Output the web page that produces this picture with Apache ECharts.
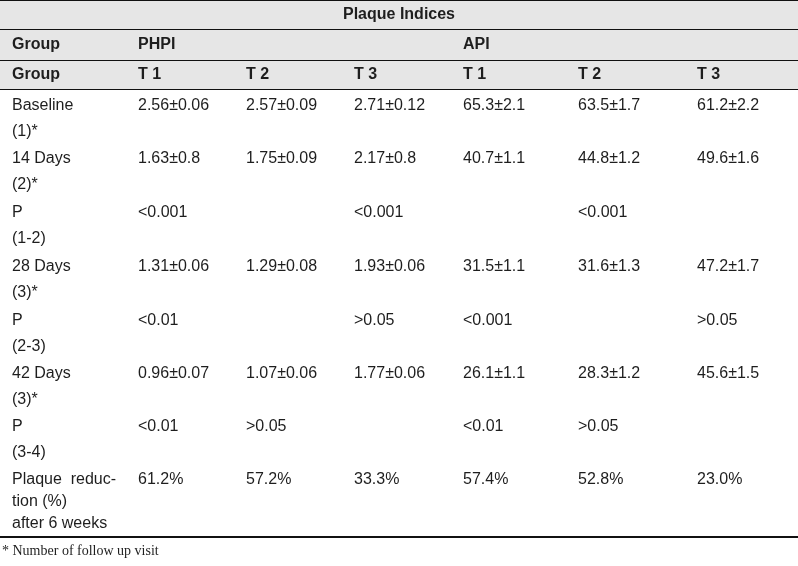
<!DOCTYPE html>
<html>
<head>
<meta charset="utf-8">
<script src="https://cdn.jsdelivr.net/npm/echarts@6/dist/echarts.min.js"></script>
<style>
  html, body { margin: 0; padding: 0; background: #fff; }
  #chart { width: 798px; height: 566px; }
</style>
</head>
<body>
<div id="chart"></div>
<script>
// table content
const title = 'Plaque Indices'
const groupHeader = ['Group', 'PHPI', '', '', 'API', '', '']
const subHeader = ['Group', 'T 1', 'T 2', 'T 3', 'T 1', 'T 2', 'T 3']
const groups = [
  'Baseline\n(1)*',
  '14 Days\n(2)*',
  'P\n(1-2)',
  '28 Days\n(3)*',
  'P\n(2-3)',
  '42 Days\n(3)*',
  'P\n(3-4)',
  'Plaque  reduc-\ntion (%)\nafter 6 weeks'
]
const phpiT1 = ['2.56±0.06', '1.63±0.8', '<0.001', '1.31±0.06', '<0.01', '0.96±0.07', '<0.01', '61.2%']
const phpiT2 = ['2.57±0.09', '1.75±0.09', '', '1.29±0.08', '', '1.07±0.06', '>0.05', '57.2%']
const phpiT3 = ['2.71±0.12', '2.17±0.8', '<0.001', '1.93±0.06', '>0.05', '1.77±0.06', '', '33.3%']
const apiT1 = ['65.3±2.1', '40.7±1.1', '', '31.5±1.1', '<0.001', '26.1±1.1', '<0.01', '57.4%']
const apiT2 = ['63.5±1.7', '44.8±1.2', '<0.001', '31.6±1.3', '', '28.3±1.2', '>0.05', '52.8%']
const apiT3 = ['61.2±2.2', '49.6±1.6', '', '47.2±1.7', '>0.05', '45.6±1.5', '', '23.0%']
const footnote = '* Number of follow up visit'

// layout (pixel units on hidden value axes)
const W = 798
const H = 566
const colX = [12, 138, 246, 354, 463, 578, 697]
const headY = [15, 45, 75]
const rowY = [106, 159, 213, 267, 321, 374, 427, 480]
const bands = [[0, 89]]
const rules = [[0, 1], [29, 1], [60, 1], [89, 1], [536, 2]]

const SANS = 'Liberation Sans, Arial, sans-serif'
const SERIF = 'Liberation Serif, Times New Roman, serif'

const cells = []
function addCell (x, y, text, opts) {
  if (!text) return
  cells.push(Object.assign({ x, y, text, font: '16px ' + SANS, lh: 26, align: 'left' }, opts))
}

addCell(W / 2, headY[0], title, { font: 'bold 16px ' + SANS, align: 'center' })
groupHeader.forEach((t, i) => addCell(colX[i], headY[1], t, { font: 'bold 16px ' + SANS }))
subHeader.forEach((t, i) => addCell(colX[i], headY[2], t, { font: 'bold 16px ' + SANS }))

const columns = [groups, phpiT1, phpiT2, phpiT3, apiT1, apiT2, apiT3]
columns.forEach((col, c) => {
  col.forEach((t, r) => {
    const lh = (c === 0 && r === groups.length - 1) ? 22 : 26
    addCell(colX[c], rowY[r], t, { lh })
  })
})
addCell(2, 551, footnote, { font: '14px ' + SERIF, lh: 18 })

const chart = echarts.init(document.getElementById('chart'))
chart.setOption({
  animation: false,
  grid: { left: 0, right: 0, top: 0, bottom: 0 },
  xAxis: { type: 'value', min: 0, max: W, show: false },
  yAxis: { type: 'value', min: 0, max: H, inverse: true, show: false },
  series: [
    {
      // header background
      type: 'custom',
      silent: true,
      data: bands,
      renderItem (params, api) {
        const p0 = api.coord([0, api.value(0)])
        const p1 = api.coord([W, api.value(1)])
        return {
          type: 'rect',
          shape: { x: p0[0], y: p0[1], width: p1[0] - p0[0], height: p1[1] - p0[1] },
          style: { fill: '#e6e6e6' }
        }
      }
    },
    {
      // horizontal rules
      type: 'custom',
      silent: true,
      data: rules,
      renderItem (params, api) {
        const y = api.value(0)
        const p0 = api.coord([0, y])
        const p1 = api.coord([W, y + api.value(1)])
        return {
          type: 'rect',
          shape: { x: p0[0], y: p0[1], width: p1[0] - p0[0], height: p1[1] - p0[1] },
          style: { fill: '#111' }
        }
      }
    },
    {
      // cell texts
      type: 'custom',
      silent: true,
      data: cells.map(c => [c.x, c.y]),
      renderItem (params, api) {
        const c = cells[params.dataIndex]
        const p = api.coord([api.value(0), api.value(1)])
        return {
          type: 'text',
          x: p[0],
          y: p[1] - c.lh / 2,
          style: {
            text: c.text,
            font: c.font,
            fill: '#1e1e1e',
            align: c.align,
            verticalAlign: 'top',
            lineHeight: c.lh
          }
        }
      }
    }
  ]
})
</script>
</body>
</html>
